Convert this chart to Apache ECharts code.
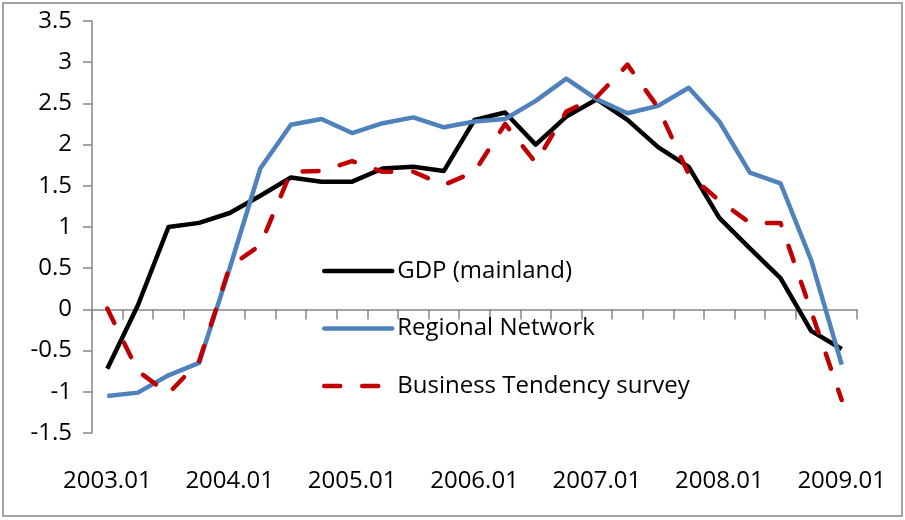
<!DOCTYPE html>
<html>
<head>
<meta charset="utf-8">
<script src="https://cdn.jsdelivr.net/npm/echarts@6/dist/echarts.min.js"></script>
<style>
    html, body { margin: 0; padding: 0; background: #fff; }
    #chart { width: 905px; height: 520px; }
</style>
</head>
<body>
<div id="chart"></div>
<script>
// quarters 2003.01 .. 2009.01
const quarters = [
    "2003.01", "2003.02", "2003.03", "2003.04",
    "2004.01", "2004.02", "2004.03", "2004.04",
    "2005.01", "2005.02", "2005.03", "2005.04",
    "2006.01", "2006.02", "2006.03", "2006.04",
    "2007.01", "2007.02", "2007.03", "2007.04",
    "2008.01", "2008.02", "2008.03", "2008.04",
    "2009.01"
];
const gdp = [-0.72, 0.05, 1.0, 1.05, 1.17, 1.38, 1.6, 1.55, 1.55, 1.71, 1.73, 1.68,
    2.3, 2.39, 2.0, 2.34, 2.55, 2.3, 1.97, 1.73, 1.11, 0.74, 0.38, -0.26, -0.48];
const regional = [-1.05, -1.01, -0.8, -0.65, 0.5, 1.71, 2.24, 2.31, 2.14, 2.26, 2.33, 2.21,
    2.28, 2.31, 2.53, 2.8, 2.55, 2.38, 2.47, 2.69, 2.28, 1.66, 1.53, 0.6, -0.67];
const business = [0.01, -0.75, -1.02, -0.63, 0.52, 0.78, 1.67, 1.68, 1.8, 1.67, 1.67, 1.51,
    1.67, 2.25, 1.78, 2.4, 2.58, 2.97, 2.45, 1.64, 1.32, 1.05, 1.05, -0.02, -1.1];

const font = "Open Sans";
const axisGrey = "#868686";

const chart = echarts.init(document.getElementById("chart"));
chart.setOption({
    animation: false,
    textStyle: { fontFamily: font },
    graphic: [
        {
            type: "rect",
            shape: { x: 3, y: 3, width: 899, height: 513 },
            style: { fill: null, stroke: axisGrey, lineWidth: 1.5 }
        }
    ],
    grid: { left: 92, right: 48, top: 21, bottom: 87 },
    legend: {
        orient: "vertical",
        left: 317,
        top: 254,
        itemWidth: 68,
        itemHeight: 1,
        itemGap: 33.5,
        itemStyle: { opacity: 0 },
        lineStyle: { width: 4.5, cap: "round" },
        textStyle: { fontFamily: font, fontSize: 24, color: "#000", lineHeight: 24 },
        data: ["GDP (mainland)", "Regional Network", "Business Tendency survey"]
    },
    xAxis: {
        type: "category",
        data: quarters,
        boundaryGap: true,
        axisLine: { lineStyle: { color: axisGrey, width: 1.5 } },
        axisTick: { show: true, length: 10, interval: 0, lineStyle: { color: axisGrey, width: 1.5 } },
        axisLabel: { interval: 3, margin: 36, fontFamily: font, fontSize: 24, color: "#000" },
        splitLine: { show: false }
    },
    yAxis: {
        type: "value",
        min: -1.5,
        max: 3.5,
        interval: 0.5,
        axisLine: { show: true, lineStyle: { color: axisGrey, width: 1.5 } },
        axisTick: { show: true, length: 9, lineStyle: { color: axisGrey, width: 1.5 } },
        axisLabel: { margin: 20, fontFamily: font, fontSize: 24, color: "#000" },
        splitLine: { show: false }
    },
    series: [
        {
            name: "GDP (mainland)",
            type: "line",
            data: gdp,
            symbol: "none",
            lineStyle: { color: "#000000", width: 4.5, join: "round" },
            itemStyle: { color: "#000000" }
        },
        {
            name: "Regional Network",
            type: "line",
            data: regional,
            symbol: "none",
            lineStyle: { color: "#4F81BD", width: 4.5, join: "round" },
            itemStyle: { color: "#4F81BD" }
        },
        {
            name: "Business Tendency survey",
            type: "line",
            data: business,
            symbol: "none",
            lineStyle: { color: "#C00000", width: 4.5, type: [16, 22], cap: "round", join: "round" },
            itemStyle: { color: "#C00000" }
        }
    ]
});
</script>
</body>
</html>
